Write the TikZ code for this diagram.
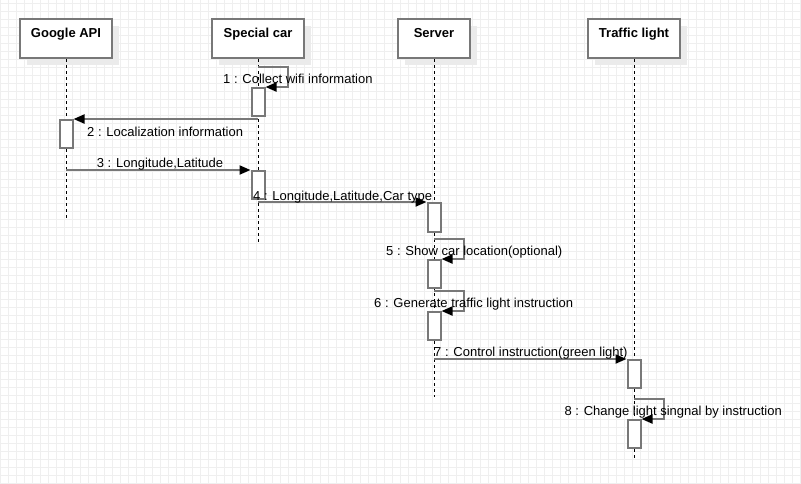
\documentclass[tikz,border=0pt]{standalone}
\usepackage{fontspec}
\setmainfont{Liberation Sans}
\usetikzlibrary{arrows.meta,shadows}
\definecolor{gridc}{HTML}{EFEFEF}
\definecolor{shadc}{HTML}{EBEBEB}
\definecolor{edgec}{HTML}{787878}
\begin{document}
\begin{tikzpicture}[x=1pt,y=-1pt,
 actor/.style={draw=edgec, line width=2pt, fill=white, minimum height=39pt, inner sep=0pt,
   general shadow={fill=shadc, shadow xshift=7pt, shadow yshift=-7pt}},
 title/.style={font=\fontsize{13}{15}\selectfont\bfseries, anchor=base, inner sep=0pt},
 lifeline/.style={line width=1pt, dash pattern=on 3pt off 3pt},
 act/.style={draw=edgec, line width=2pt, fill=white, minimum width=13pt, minimum height=28pt, inner sep=0pt, anchor=north},
 msg/.style={draw=edgec, line width=2pt, -{Triangle[length=11pt,width=9pt,color=black]}},
 lbl/.style={font=\fontsize{13}{15}\selectfont, anchor=base west, inner sep=0pt},
]
\useasboundingbox (0,0) rectangle (801,483);
\fill[white] (0,0) rectangle (801,483);
% grid
\foreach \x in {0,8,...,800} \draw[gridc, line width=1pt] (\x+0.5,0) -- (\x+0.5,483);
\foreach \y in {3,11,...,483} \draw[gridc, line width=1pt] (0,\y+0.5) -- (801,\y+0.5);

% actors
\node[actor, minimum width=92pt] (ga) at (66,38.5) {};
\node[actor, minimum width=92pt] (sc) at (258,38.5) {};
\node[actor, minimum width=72pt] (sv) at (434,38.5) {};
\node[actor, minimum width=92pt] (tl) at (634,38.5) {};
\node[title] (gaT) at (66,37.4) {Google API};
\node[title] (scT) at (258,37.4) {Special car};
\node[title] (svT) at (434,37.4) {Server};
\node[title] (tlT) at (634,37.4) {Traffic light};

% lifelines
\coordinate (gaE) at (66.5,218);
\coordinate (scE) at (258.5,242);
\coordinate (svE) at (434.5,397);
\coordinate (tlE) at (634.5,458);
\draw[lifeline] (ga.south -| gaE) -- (gaE);
\draw[lifeline] (sc.south -| scE) -- (scE);
\draw[lifeline] (sv.south -| svE) -- (svE);
\draw[lifeline] (tl.south -| tlE) -- (tlE);

% activations
\node[act] (a1) at (258,87) {};
\node[act] (a2) at (66,119) {};
\node[act] (a3) at (258,170) {};
\node[act, minimum height=29pt] (a4) at (434,202) {};
\node[act] (a5) at (434,259) {};
\node[act] (a6) at (434,311) {};
\node[act] (a7) at (634,359) {};
\node[act] (a8) at (634,419) {};

% message start points
\coordinate (c1) at (258,67);
\coordinate (c2) at (258,119);
\coordinate (c3) at (66,170);
\coordinate (c4) at (258,202);
\coordinate (c5) at (434,239);
\coordinate (c6) at (434,291);
\coordinate (c7) at (434,359);
\coordinate (c8) at (634,399);

% messages
\draw[msg] (c1) -- (288,67) |- (a1.north east);
\draw[msg] (c2) -- (c2 -| a2.east);
\draw[msg] (c3) -- (c3 -| a3.west);
\draw[msg] (c4) -- (c4 -| a4.west);
\draw[msg] (c5) -- (464,239) |- (a5.north east);
\draw[msg] (c6) -- (464,291) |- (a6.north east);
\draw[msg] (c7) -- (c7 -| a7.west);
\draw[msg] (c8) -- (664,399) |- (a8.north east);

% labels
\node[lbl] (l1) at (223,83.2) {1 : Collect wifi information};
\node[lbl] (l2) at (87,136.4) {2 : Localization information};
\node[lbl] (l3) at (96.7,167.4) {3 : Longitude,Latitude};
\node[lbl] (l4) at (253,200) {4 : Longitude,Latitude,Car type};
\node[lbl] (l5) at (386,255.4) {5 : Show car location(optional)};
\node[lbl] (l6) at (374,307) {6 : Generate traffic light instruction};
\node[lbl] (l7) at (434,356.5) {7 : Control instruction(green light)};
\node[lbl] (l8) at (564.3,415) {8 : Change light singnal by instruction};
\end{tikzpicture}
\end{document}
